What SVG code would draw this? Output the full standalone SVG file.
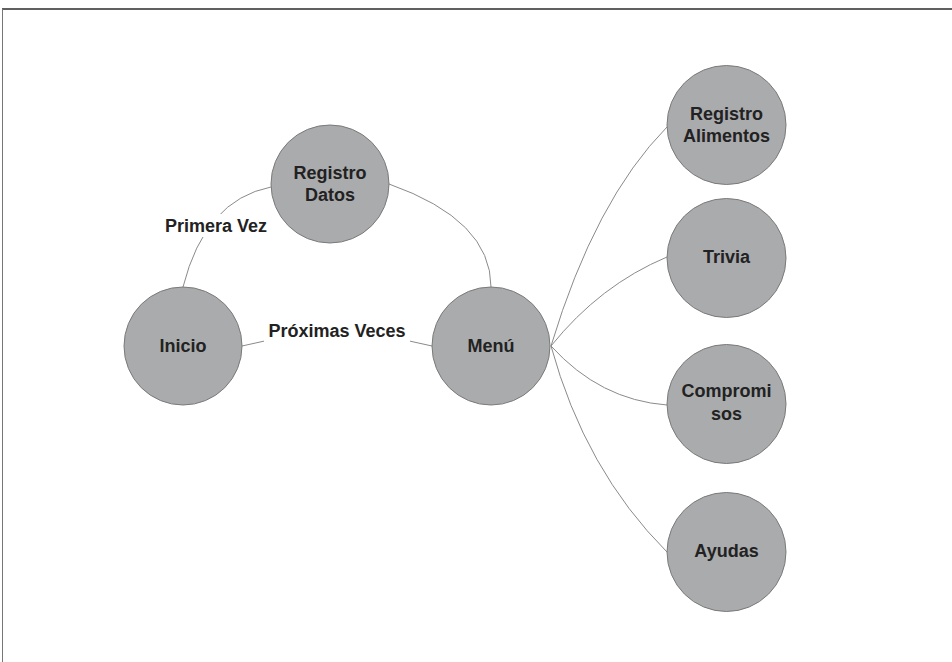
<svg xmlns="http://www.w3.org/2000/svg" width="952" height="662" viewBox="0 0 952 662">
<style>
.node circle{fill:#aaabad;stroke:#7a7a7a;stroke-width:1}
.node text,.lbl text{font-family:"Liberation Sans",Arial,sans-serif;font-weight:bold;font-size:18px;fill:#222;text-anchor:middle}
.edges path{fill:none;stroke:#8a8a8a;stroke-width:1}
.lbl rect{fill:#fff}
</style>
<rect x="0" y="0" width="952" height="662" fill="#fff"/>
<line x1="2" y1="9" x2="952" y2="9" stroke="#606060" stroke-width="2"/>
<line x1="2.5" y1="9" x2="2.5" y2="662" stroke="#777" stroke-width="1"/>
<g id="connectors" class="edges">
<path d="M183,287 Q205,200 271,187"/>
<path d="M389,184 Q491,220 491,287"/>
<path d="M242,346 Q337,322 432,346"/>
<path d="M551,346 Q595,200 667,127"/>
<path d="M551,346 Q600,285 667,257"/>
<path d="M551,346 Q600,400 667,405"/>
<path d="M551,346 Q585,470 667,552"/>
</g>
<g id="label-primera" class="lbl">
<rect x="161" y="214" width="110" height="23"/>
<text x="216" y="232">Primera Vez</text>
</g>
<g id="label-proximas" class="lbl">
<rect x="264" y="319" width="146" height="24"/>
<text x="337" y="337">Próximas Veces</text>
</g>
<g id="inicio" class="node">
<circle cx="183" cy="346" r="59"/>
<text x="183" y="352">Inicio</text>
</g>
<g id="registro-datos" class="node">
<circle cx="330" cy="184" r="59"/>
<text x="330" y="179">Registro</text>
<text x="330" y="201">Datos</text>
</g>
<g id="menu" class="node">
<circle cx="491" cy="346" r="59"/>
<text x="491" y="352">Menú</text>
</g>
<g id="registro-alimentos" class="node">
<circle cx="726.5" cy="125" r="59.5"/>
<text x="726.5" y="120">Registro</text>
<text x="726.5" y="142">Alimentos</text>
</g>
<g id="trivia" class="node">
<circle cx="726.5" cy="258" r="59.5"/>
<text x="726.5" y="263">Trivia</text>
</g>
<g id="compromisos" class="node">
<circle cx="726.5" cy="404" r="59.5"/>
<text x="726.5" y="397">Compromi</text>
<text x="726.5" y="420">sos</text>
</g>
<g id="ayudas" class="node">
<circle cx="726.5" cy="552" r="59.5"/>
<text x="726.5" y="557">Ayudas</text>
</g>
</svg>
